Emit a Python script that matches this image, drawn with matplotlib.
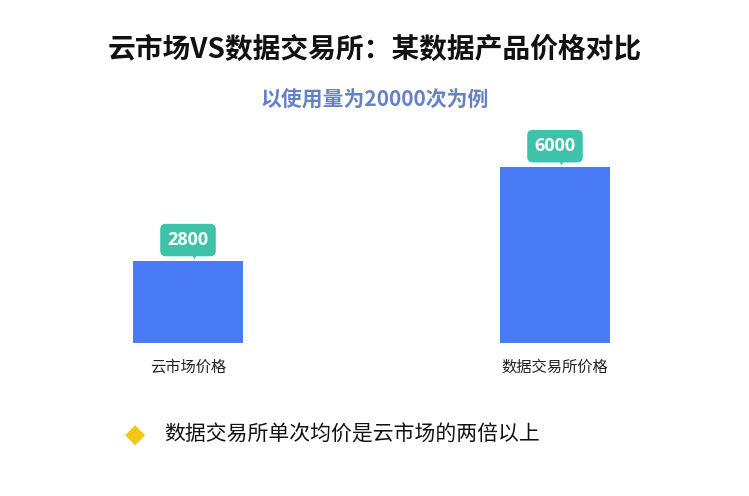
import matplotlib
matplotlib.use("Agg")
import matplotlib.pyplot as plt
from matplotlib import transforms

plt.rcParams['font.family'] = ['Noto Sans CJK SC', 'DejaVu Sans']

categories = ['云市场价格', '数据交易所价格']
prices = [2800, 6000]
title = '云市场VS数据交易所：某数据产品价格对比'
subtitle = '以使用量为20000次为例'
note = '数据交易所单次均价是云市场的两倍以上'

bar_color = '#4A7BF7'
tag_color = '#3EC2AA'

fig = plt.figure(figsize=(7.49, 4.96), dpi=100)
fig.patch.set_facecolor('white')

# axes placed so bar bottoms sit at y=343px, centers at 188px / 555px
ax = fig.add_axes([4.5 / 749, 153 / 496, 734 / 749, 205.3 / 496])
x = list(range(len(categories)))
ax.bar(x, prices, width=0.3, color=bar_color)
ax.set_xlim(-0.5, 1.5)
ax.set_ylim(0, 7000)
ax.axis('off')

for i, v in enumerate(prices):
    ax.annotate(str(v), xy=(i, v), xytext=(0, 15), textcoords='offset points',
                ha='center', va='center', fontsize=13, fontweight='bold',
                color='white', family=['Open Sans', 'DejaVu Sans'],
                bbox=dict(boxstyle='round,pad=0.4,rounding_size=0.3',
                          fc=tag_color, ec='none'))
    # little pointer under the tag
    tr = transforms.offset_copy(ax.transData, fig=fig, x=4, y=4, units='points')
    ax.plot([i], [v], marker='v', ms=6, color=tag_color, mec='none',
            transform=tr, clip_on=False)
    ax.annotate(categories[i], xy=(i, 0), xytext=(0, -17.5), textcoords='offset points',
                ha='center', va='center', fontsize=11, color='#222222')

fig.text(0.5, 1 - 50 / 496, title, ha='center', va='center',
         fontsize=20, fontweight='bold', color='#111111')
fig.text(0.5, 1 - 100 / 496, subtitle, ha='center', va='center',
         fontsize=15, fontweight='bold', color='#6482C4')

fig.text(135 / 749, 1 - 435 / 496, '◆', ha='center', va='center',
         fontsize=19, color='#F5C518', family=['DejaVu Sans'])
fig.text(164 / 749, 1 - 435 / 496, note, ha='left', va='center',
         fontsize=15, color='#111111')

fig.savefig('out.png', dpi=100, facecolor='white')
